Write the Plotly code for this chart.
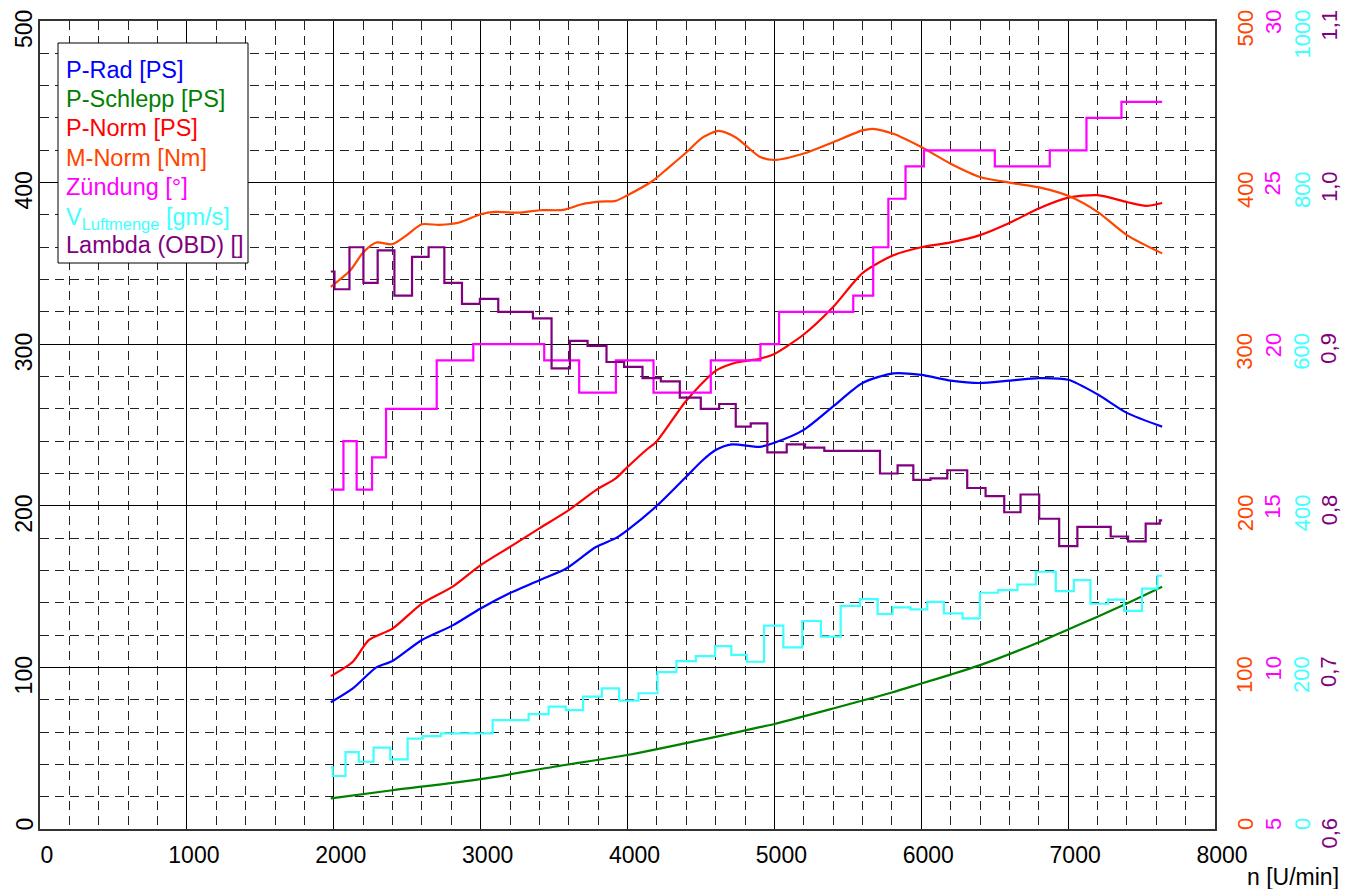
import plotly.graph_objects as go

# ---------------- data ----------------
rpm_prad = [1980, 2130, 2290, 2400, 2600, 2810, 3000, 3200, 3400, 3580, 3785, 3920, 4000, 4200,
            4400, 4510, 4600, 4710, 4900, 5000, 5200, 5400, 5600, 5810, 6000, 6200, 6400, 6600,
            6800, 7000, 7200, 7400, 7640]
p_rad = [78.4, 87, 100, 104, 117, 126, 136.5, 146, 154, 161, 174.5, 180, 185, 200,
         218, 228, 234.5, 238, 236.5, 239, 247, 261.5, 276, 282, 281, 277.5, 276, 277.5,
         279, 278, 269, 257.5, 249]

rpm_pnorm = [1980, 2130, 2240, 2400, 2600, 2810, 3000, 3200, 3400, 3600, 3785, 3920, 4000, 4125,
             4200, 4400, 4600, 4740, 4900, 5000, 5200, 5400, 5600, 5810, 6000, 6200, 6400, 6600,
             6800, 7000, 7200, 7400, 7530, 7640]
p_norm = [94.6, 103.5, 117, 124, 139.5, 150, 163.3, 174.6, 186, 197.3, 209.7, 217, 224, 234.4,
          240, 265, 283.5, 288.7, 291, 294, 306, 323, 344, 355, 360, 363, 367.5, 375,
          384, 390.7, 392.2, 388, 385.6, 387.4]

rpm_schlepp = [1980, 2400, 3000, 3500, 4000, 4600, 4900, 5000, 5400, 5600, 5800, 6000, 6200,
               6400, 6810, 7000, 7200, 7400, 7640]
p_schlepp = [19, 24, 30.9, 38.5, 45.8, 57, 63, 65, 74.6, 79.5, 84.5, 90, 95.5,
             101.4, 115.9, 123.5, 131.3, 139.6, 149.9]

rpm_mnorm = [1980, 2110, 2200, 2290, 2400, 2490, 2600, 2720, 2855, 3000, 3100, 3260, 3400, 3560,
             3690, 3810, 3920, 4000, 4170, 4280, 4400, 4510, 4620, 4740, 4900, 5000, 5200, 5400,
             5600, 5670, 5810, 6000, 6200, 6400, 6600, 6810, 7000, 7200, 7400, 7640]
m_norm = [335.5, 345.4, 356.7, 362.9, 361.9, 367, 374.2, 373.8, 375.3, 380.4, 381.9, 381.4, 382.9, 383.1,
          386.6, 388.2, 388.7, 392.2, 401, 409.3, 418.6, 427.8, 432, 427.8, 416, 414, 418, 425,
          432.3, 433.3, 430.2, 422, 411.7, 403.5, 400, 396.9, 391.8, 381.9, 367.5, 356.2]

rpm_zuend = [1980, 2066, 2156, 2261, 2356, 2701, 2950, 3433, 3671, 3921, 4177, 4567, 4905, 5032,
             5537, 5673, 5776, 5893, 6018, 6501, 6875, 7125, 7363, 7640]
zuendung = [15.5, 17.0, 15.5, 16.5, 18.0, 19.5, 20.0, 19.5, 18.5, 19.5, 18.5, 19.5, 20.0, 21.0,
            21.5, 23.0, 24.5, 25.5, 26.0, 25.5, 26.0, 27.0, 27.5, 27.5]

rpm_luft = [1980, 1993, 2080, 2170, 2271, 2385, 2503, 2605, 2730, 3082, 3327, 3463, 3580, 3698,
            3825, 3943, 4075, 4204, 4333, 4465, 4596, 4707, 4812, 4930, 5061, 5190, 5317, 5451,
            5583, 5703, 5805, 5927, 6041, 6154, 6281, 6399, 6524, 6655, 6780, 6916, 7039, 7152,
            7272, 7381, 7503, 7608, 7640]
v_luft = [76.2, 65.6, 95.2, 83.2, 100.6, 86.2, 111.8, 115, 118.4, 134.8, 142.2, 151.4, 147.2, 163.8,
          174, 158.8, 168, 194.2, 207.8, 214, 226.4, 215.6, 207, 251.6, 224.8, 257.4, 238, 276.2,
          284.6, 266, 274.2, 271.8, 281.2, 266.8, 260.6, 292.4, 295.6, 302.6, 318.4, 294.4, 308, 278.8,
          283.8, 270, 297.4, 313.4, 313.4]

rpm_lambda = [1980, 2005, 2107, 2202, 2299, 2413, 2533, 2646, 2753, 2873, 2995, 3120, 3356, 3483,
              3608, 3728, 3857, 3977, 4102, 4227, 4356, 4499, 4624, 4737, 4839, 4952, 5084, 5209,
              5340, 5719, 5839, 5946, 6063, 6177, 6313, 6438, 6565, 6676, 6803, 6939, 7063, 7290,
              7408, 7528, 7624, 7640]
lambda_obd = [0.945, 0.934, 0.960, 0.938, 0.958, 0.930, 0.954, 0.960, 0.938, 0.925, 0.928, 0.920, 0.916, 0.885,
              0.902, 0.899, 0.889, 0.886, 0.879, 0.877, 0.867, 0.860, 0.863, 0.849, 0.851, 0.833, 0.838, 0.836,
              0.834, 0.820, 0.825, 0.816, 0.817, 0.822, 0.811, 0.806, 0.796, 0.807, 0.792, 0.775, 0.787, 0.781,
              0.778, 0.789, 0.791, 0.791]

x_ticks = [0, 1000, 2000, 3000, 4000, 5000, 6000, 7000, 8000]
ps_ticks = [0, 100, 200, 300, 400, 500]
nm_ticks = [0, 100, 200, 300, 400, 500]
zuend_ticks = [5, 10, 15, 20, 25, 30]
luft_ticks = [0, 200, 400, 600, 800, 1000]
lambda_ticks = [0.6, 0.7, 0.8, 0.9, 1.0, 1.1]
lambda_tick_labels = ["0,6", "0,7", "0,8", "0,9", "1,0", "1,1"]

legend_names = ["P-Rad [PS]", "P-Schlepp [PS]", "P-Norm [PS]", "M-Norm [Nm]", "Zündung [°]",
                "V<sub>Luftmenge</sub> [gm/s]", "Lambda (OBD) []"]

# ---------------- styles ----------------
FONT = "Liberation Sans, Arial, sans-serif"
C_BLUE, C_GREEN, C_RED, C_ORANGE = "#0000FF", "#008000", "#FF0000", "#FF4500"
C_MAG, C_CYAN, C_PURP = "#FF00FF", "#40FFFF", "#800080"
legend_colors = [C_BLUE, C_GREEN, C_RED, C_ORANGE, C_MAG, C_CYAN, C_PURP]
LW = 2.2
SMOOTH = dict(shape="spline", smoothing=0.7)

# plot-area geometry in page pixels
PL, PR, PT, PB = 40, 1215, 21, 829

def px_x(px):
    return (px - PL) / float(PR - PL)

def px_y(py):
    return (PB - py) / float(PB - PT)

fig = go.Figure()
fig.add_trace(go.Scatter(x=rpm_schlepp, y=p_schlepp, mode="lines", line=dict(color=C_GREEN, width=LW, **SMOOTH), yaxis="y"))
fig.add_trace(go.Scatter(x=rpm_prad, y=p_rad, mode="lines", line=dict(color=C_BLUE, width=LW, **SMOOTH), yaxis="y"))
fig.add_trace(go.Scatter(x=rpm_pnorm, y=p_norm, mode="lines", line=dict(color=C_RED, width=LW, **SMOOTH), yaxis="y"))
fig.add_trace(go.Scatter(x=rpm_mnorm, y=m_norm, mode="lines", line=dict(color=C_ORANGE, width=LW, **SMOOTH), yaxis="y2"))
fig.add_trace(go.Scatter(x=rpm_zuend, y=zuendung, mode="lines", line=dict(color=C_MAG, width=LW, shape="hv"), yaxis="y3"))
fig.add_trace(go.Scatter(x=rpm_luft, y=v_luft, mode="lines", line=dict(color=C_CYAN, width=LW, shape="hv"), yaxis="y4"))
fig.add_trace(go.Scatter(x=rpm_lambda, y=lambda_obd, mode="lines", line=dict(color=C_PURP, width=LW, shape="hv"), yaxis="y5"))

DASH = "9px,6px"
fig.update_layout(
    width=1357, height=889,
    margin=dict(l=PL, r=1357 - PR, t=PT, b=889 - PB, autoexpand=False),
    plot_bgcolor="white", paper_bgcolor="white",
    showlegend=False,
    font=dict(family=FONT, size=23, color="black"),
    xaxis=dict(range=[0, 8000], tickvals=x_ticks, showgrid=True, gridcolor="black", gridwidth=1,
               zeroline=False, showline=True, mirror=True, linecolor="#333333", linewidth=1.5,
               ticks="", tickfont=dict(family=FONT, size=23, color="black"),
               ticklabelstandoff=5, ticklabelshift=7,
               minor=dict(dtick=200, tick0=0, showgrid=True, gridcolor="#222222", gridwidth=1, griddash=DASH)),
    yaxis=dict(range=[0, 500], dtick=100, tick0=0, showgrid=True, gridcolor="black", gridwidth=1,
               zeroline=False, showline=True, mirror=True, linecolor="#333333", linewidth=1.5,
               ticks="", showticklabels=False,
               minor=dict(dtick=20, tick0=0, showgrid=True, gridcolor="#222222", gridwidth=1, griddash=DASH)),
    yaxis2=dict(range=[0, 500], overlaying="y", visible=False),
    yaxis3=dict(range=[5, 30], overlaying="y", visible=False),
    yaxis4=dict(range=[0, 1000], overlaying="y", visible=False),
    yaxis5=dict(range=[0.6, 1.1], overlaying="y", visible=False),
)

# y tick labels (rotated), left and right
def add_axis_labels(values, labels, yref, xpx, color, size):
    for v, t in zip(values, labels):
        fig.add_annotation(x=px_x(xpx), xref="paper", y=v, yref=yref, text=t,
                           textangle=-90, showarrow=False, xanchor="center", yanchor="top",
                           yshift=13, font=dict(family=FONT, size=size, color=color))

add_axis_labels(ps_ticks, [str(v) for v in ps_ticks], "y", 24, "black", 23)
add_axis_labels(nm_ticks, [str(v) for v in nm_ticks], "y2", 1245, C_ORANGE, 22)
add_axis_labels(zuend_ticks, [str(v) for v in zuend_ticks], "y3", 1273, C_MAG, 22)
add_axis_labels(luft_ticks, [str(v) for v in luft_ticks], "y4", 1302, C_CYAN, 22)
add_axis_labels(lambda_ticks, lambda_tick_labels, "y5", 1329, C_PURP, 22)

# x axis title
fig.add_annotation(x=px_x(1341), xref="paper", y=px_y(877), yref="paper",
                   text="n [U/min]", showarrow=False, xanchor="right", yanchor="middle",
                   font=dict(family=FONT, size=23, color="black"))

# legend box: frame + one text line per series
fig.add_shape(type="rect", xref="paper", yref="paper", x0=px_x(58), x1=px_x(248),
              y0=px_y(263), y1=px_y(43), line=dict(color="black", width=1), fillcolor="white",
              layer="above")
for i, (name, col) in enumerate(zip(legend_names, legend_colors)):
    ypx = 70 + i * 29.2 + (2 if "<sub>" in name else 0)
    fig.add_annotation(x=px_x(64), xref="paper", y=px_y(ypx), yref="paper", text=name,
                       showarrow=False, xanchor="left", yanchor="middle", align="left",
                       font=dict(family=FONT, size=23.5, color=col))

fig.write_html("out.html", config={"displayModeBar": False},
               post_script="document.body.style.margin='0px';")
